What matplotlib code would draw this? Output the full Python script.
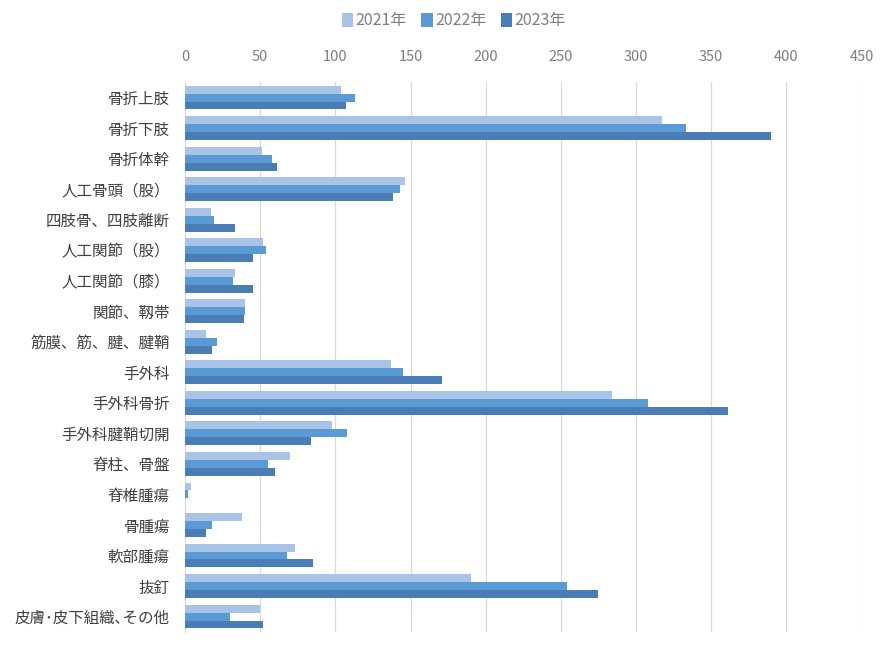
import numpy as np
import matplotlib
matplotlib.use("Agg")
import matplotlib.pyplot as plt

plt.rcParams['font.family'] = ['Noto Sans CJK JP', 'DejaVu Sans']

categories = ["骨折上肢", "骨折下肢", "骨折体幹", "人工骨頭（股）", "四肢骨、四肢離断",
              "人工関節（股）", "人工関節（膝）", "関節、靱帯", "筋膜、筋、腱、腱鞘",
              "手外科", "手外科骨折", "手外科腱鞘切開", "脊柱、骨盤", "脊椎腫瘍",
              "骨腫瘍", "軟部腫瘍", "抜釘", "皮膚･皮下組織､その他"]
years = ["2021年", "2022年", "2023年"]
v2021 = [104, 317, 51, 146, 17, 52, 33, 40, 14, 137, 284, 98, 70, 4, 38, 73, 190, 50]
v2022 = [113, 333, 58, 143, 19, 54, 32, 40, 21, 145, 308, 108, 55, 2, 18, 68, 254, 30]
v2023 = [107, 390, 61, 138, 33, 45, 45, 39, 18, 171, 361, 84, 60, 0, 14, 85, 275, 52]
xticks = [0, 50, 100, 150, 200, 250, 300, 350, 400, 450]

colors = ["#A9C4E6", "#5B9BD5", "#4A7DB5"]

fig = plt.figure(figsize=(8.9, 6.48), dpi=100)
ax = fig.add_axes([0.208, 0.025, 0.76, 0.848])

y = np.arange(len(categories))
h = 0.26
for i, (vals, lab) in enumerate(zip([v2021, v2022, v2023], years)):
    ax.barh(y + (i - 1) * h, vals, height=h, color=colors[i], label=lab, zorder=3)

ax.set_ylim(len(categories) - 0.5, -0.5)
ax.set_xlim(0, 450)
ax.set_xticks(xticks)
ax.xaxis.tick_top()
ax.tick_params(axis='x', length=0, pad=13, labelsize=10.5, labelcolor="#7f7f7f")
ax.tick_params(axis='y', length=0, pad=11, labelsize=11.2, labelcolor="#404040")
ax.set_yticks(y)
ax.set_yticklabels(categories)
ax.grid(axis='x', color="#d9d9d9", linewidth=0.9, zorder=0)
for s in ["top", "right", "bottom"]:
    ax.spines[s].set_visible(False)
ax.spines["left"].set_color("#d9d9d9")

fig.legend(loc="upper center", bbox_to_anchor=(0.51, 1.003), ncol=3, frameon=False,
           fontsize=11.5, handlelength=0.7, handleheight=0.9, handletextpad=0.15,
           columnspacing=0.9, labelcolor="#7f7f7f")

fig.savefig("out.png", dpi=100)
